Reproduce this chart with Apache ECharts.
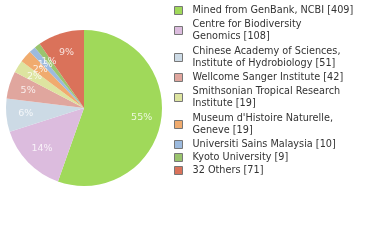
<!DOCTYPE html>
<html>
<head>
<meta charset="utf-8">
<script src="https://cdn.jsdelivr.net/npm/echarts@6/dist/echarts.min.js"></script>
<style>
  html, body { margin: 0; padding: 0; background: #fff; }
  #chart { width: 380px; height: 240px; }
</style>
</head>
<body>
<div id="chart"></div>
<script>
// Institutions contributing records, with record counts
const institutions = [
  'Mined from GenBank, NCBI',
  'Centre for Biodiversity\nGenomics',
  'Chinese Academy of Sciences,\nInstitute of Hydrobiology',
  'Wellcome Sanger Institute',
  'Smithsonian Tropical Research\nInstitute',
  "Museum d'Histoire Naturelle,\nGeneve",
  'Universiti Sains Malaysia',
  'Kyoto University',
  '32 Others'
];
const recordCounts = [409, 108, 51, 42, 19, 19, 10, 9, 71];
const sliceColors = ['#a0d95a', '#dcbcde', '#ccdae5', '#e0a69e', '#dde4a0',
                     '#f0ab6e', '#9cbade', '#9ac46e', '#da725a'];

const total = recordCounts.reduce((a, b) => a + b, 0);
const pieData = institutions.map((name, i) => ({
  name: name,
  value: recordCounts[i],
  itemStyle: { color: sliceColors[i] }
}));

// percentage labels sit at the angular middle of each slice, 3/4 of the way out
const labelPoints = [];
let running = 0;
recordCounts.forEach((v) => {
  labelPoints.push({ value: [0.75, running + v / 2], pct: Math.floor(v / total * 100) });
  running += v;
});

const fontFamily = 'DejaVu Sans';
const legendItems = institutions.map((name) => {
  const twoLines = name.indexOf('\n') >= 0;
  return {
    name: name,
    textStyle: twoLines
      ? { lineHeight: 11.5, padding: [1, 0, 3, 5] }
      : { lineHeight: 13, padding: [0, 0, 0, 5] }
  };
});

const chart = echarts.init(document.getElementById('chart'), null, { renderer: 'canvas' });

chart.setOption({
  animation: false,
  legend: {
    orient: 'vertical',
    left: 174,
    top: 4,
    padding: 0,
    itemGap: 0,
    itemWidth: 8,
    itemHeight: 8,
    icon: 'rect',
    itemStyle: { borderColor: '#777', borderWidth: 1 },
    data: legendItems,
    formatter: function (name) {
      return name + ' [' + recordCounts[institutions.indexOf(name)] + ']';
    },
    textStyle: {
      fontFamily: fontFamily,
      fontSize: 9.7,
      color: '#333',
      align: 'left'
    }
  },
  polar: { center: [84, 108], radius: 78 },
  angleAxis: {
    type: 'value', min: 0, max: total, startAngle: 90, clockwise: true, show: false
  },
  radiusAxis: { type: 'value', min: 0, max: 1, show: false },
  series: [
    {
      type: 'pie',
      center: [84, 108],
      radius: [0, 78],
      startAngle: 90,
      clockwise: true,
      silent: true,
      label: { show: false },
      labelLine: { show: false },
      itemStyle: { borderWidth: 0 },
      emphasis: { disabled: true },
      data: pieData
    },
    {
      type: 'scatter',
      coordinateSystem: 'polar',
      symbolSize: 0,
      silent: true,
      z: 5,
      label: {
        show: true,
        position: 'inside',
        color: '#fff',
        fontFamily: fontFamily,
        fontSize: 9.5,
        formatter: function (p) { return p.data.pct + '%'; }
      },
      labelLayout: { hideOverlap: false },
      data: labelPoints
    }
  ]
});
</script>
</body>
</html>
